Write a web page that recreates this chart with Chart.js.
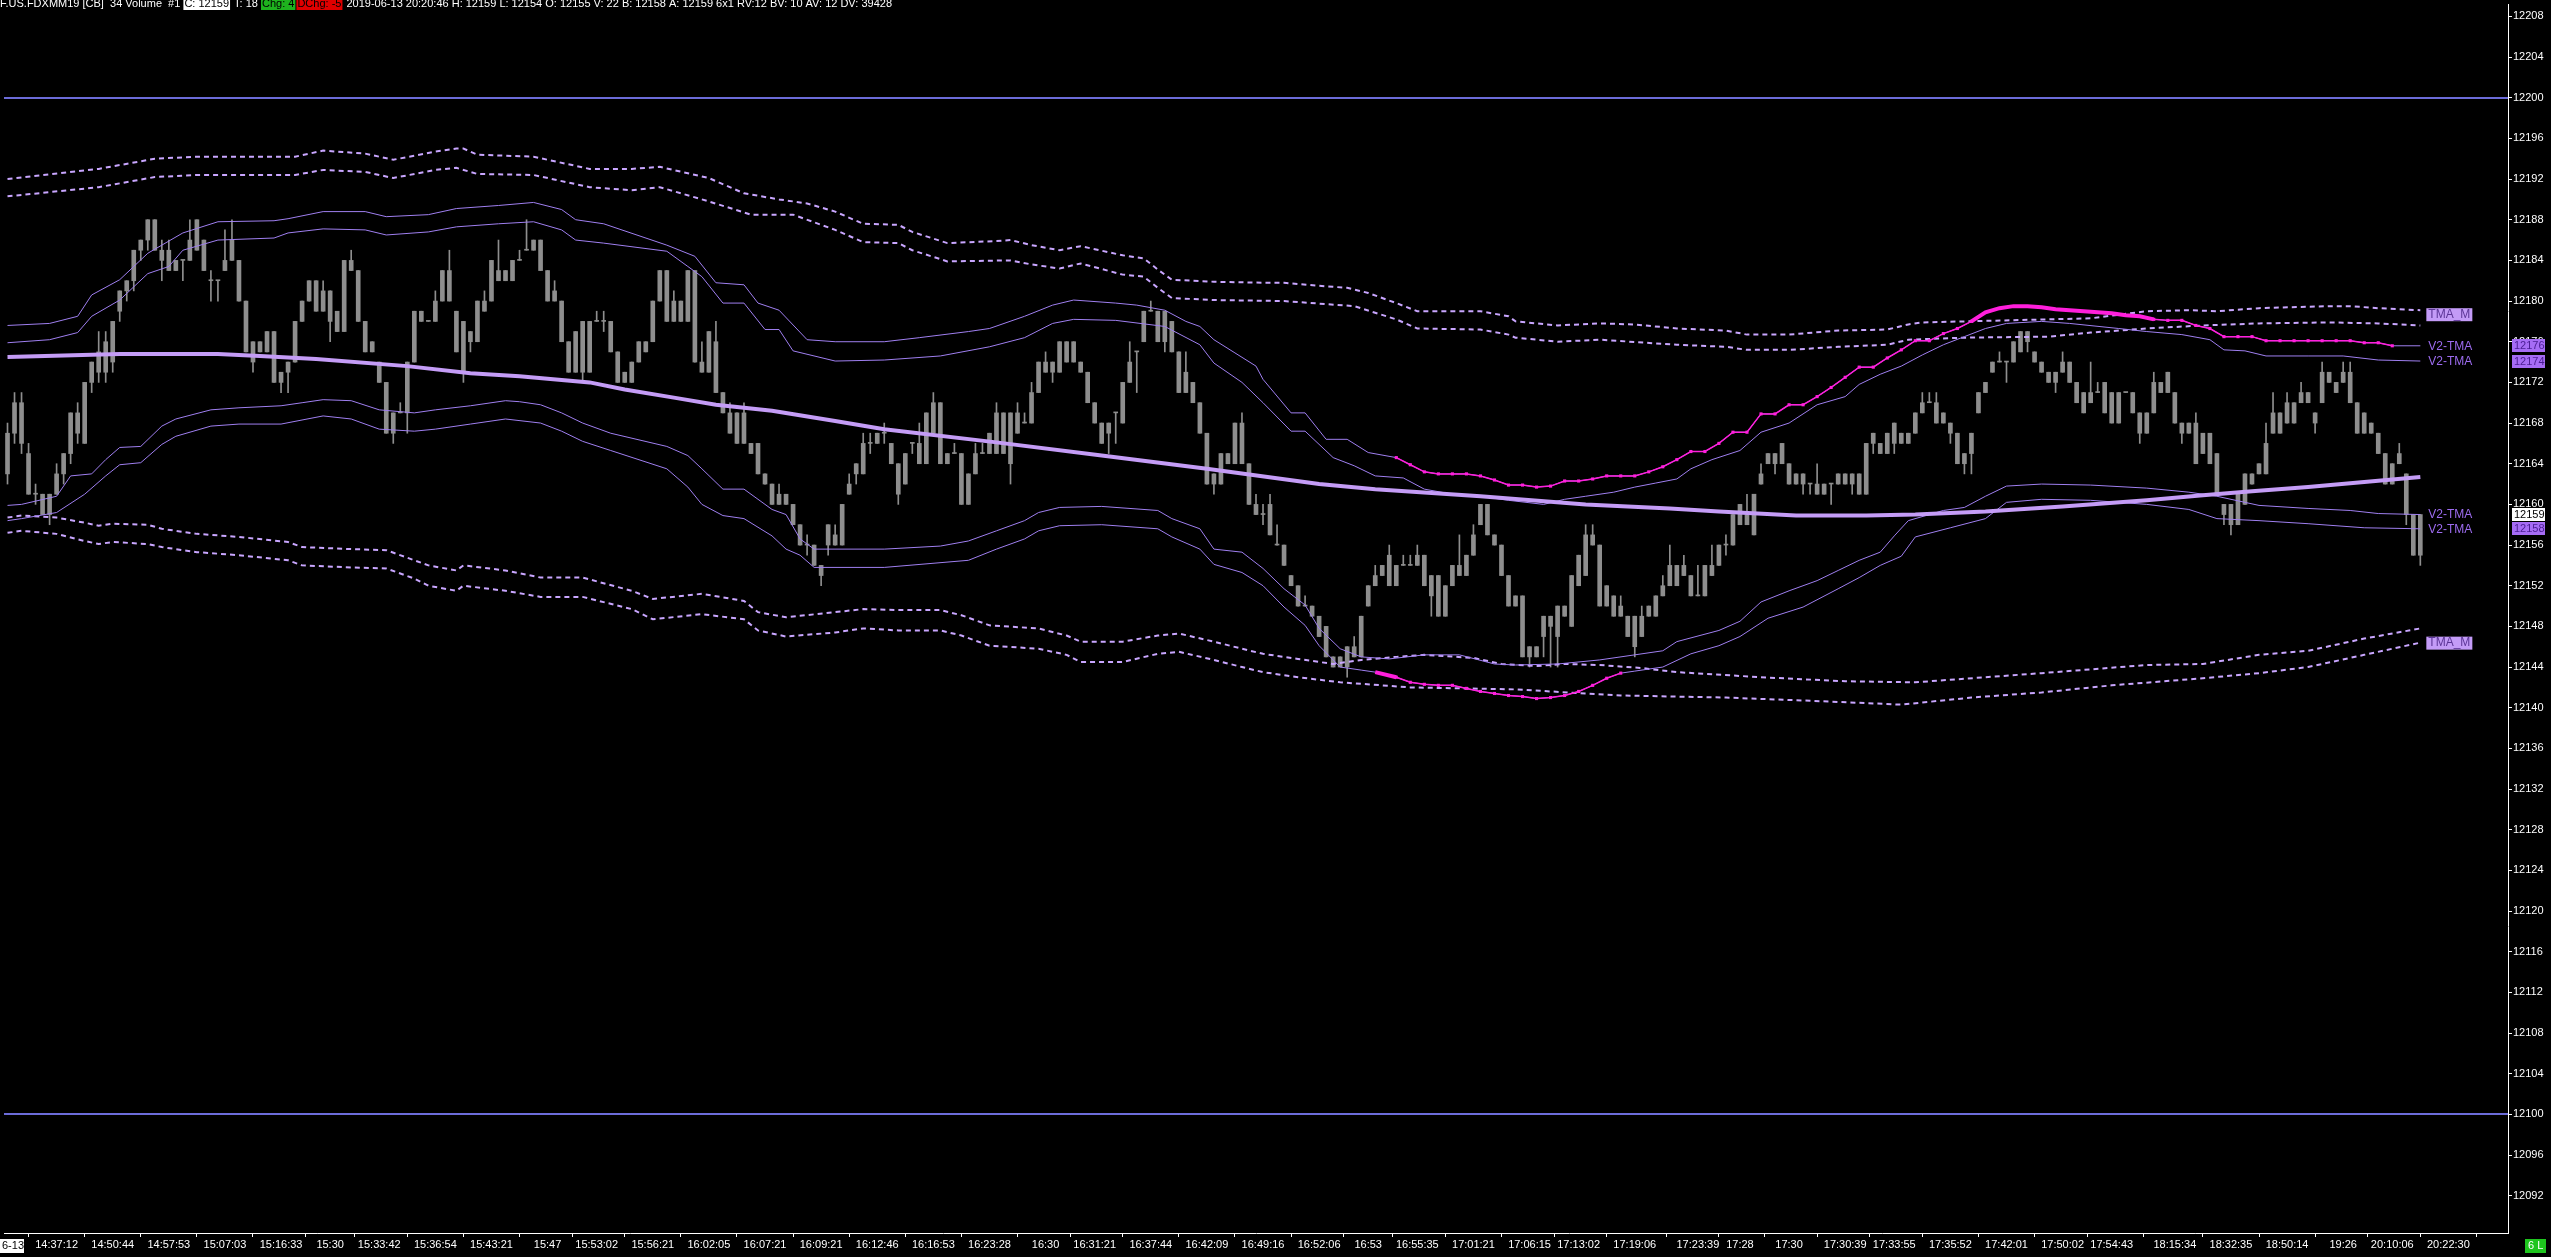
<!DOCTYPE html>
<html>
<head>
<meta charset="utf-8">
<title>F.US.FDXMM19 [CB] 34 Volume</title>
<script src="https://cdn.jsdelivr.net/npm/chart.js@4.4.0/dist/chart.umd.min.js"></script>
<style>
  html, body { margin: 0; padding: 0; background: #000; overflow: hidden; }
  canvas { display: block; }
</style>
</head>
<body>
<canvas id="grafico" width="2551" height="1257"></canvas>
<script>
// 34-volume candles, bar index 0 = first visible bar
const opens = [
  12163,12167,12170,12165,12161,12161,12159,12161,12163,12165,
  12167,12166,12172,12173,12173,12174,12179,12181,12182,12185,
  12186,12188,12185,12185,12183,12184,12184,12185,12186,12182,
  12182,12183,12184,12184,12180,12176,12175,12175,12177,12172,
  12173,12174,12178,12180,12182,12179,12181,12179,12177,12184,
  12183,12178,12175,12174,12172,12167,12169,12169,12174,12179,
  12178,12178,12180,12183,12179,12178,12176,12176,12180,12180,
  12183,12182,12182,12184,12185,12185,12186,12183,12180,12180,
  12176,12173,12178,12173,12178,12178,12178,12175,12172,12172,
  12174,12176,12176,12180,12183,12178,12180,12178,12183,12174,
  12173,12176,12171,12169,12169,12166,12166,12166,12163,12162,
  12160,12161,12160,12158,12156,12156,12154,12156,12157,12156,
  12161,12163,12163,12166,12166,12167,12166,12164,12162,12166,
  12166,12164,12167,12170,12164,12165,12165,12160,12163,12165,
  12165,12165,12169,12164,12169,12168,12168,12171,12174,12173,
  12173,12176,12174,12174,12173,12170,12168,12167,12169,12168,
  12172,12175,12176,12179,12179,12176,12178,12175,12171,12172,
  12170,12167,12162,12162,12165,12164,12168,12164,12160,12159,
  12160,12156,12156,12153,12152,12150,12150,12149,12148,12145,
  12144,12144,12146,12145,12150,12152,12153,12152,12154,12154,
  12154,12154,12155,12153,12153,12149,12152,12154,12153,12155,
  12158,12160,12157,12156,12153,12150,12151,12145,12146,12147,
  12149,12147,12150,12148,12152,12153,12157,12156,12150,12151,
  12149,12149,12149,12147,12149,12149,12151,12152,12154,12153,
  12153,12151,12151,12154,12154,12156,12156,12158,12159,12157,
  12162,12164,12165,12164,12164,12162,12163,12162,12162,12161,
  12162,12162,12163,12162,12163,12161,12166,12166,12165,12166,
  12167,12166,12167,12169,12170,12170,12168,12168,12167,12164,
  12165,12169,12171,12173,12174,12174,12174,12175,12177,12175,
  12174,12173,12172,12173,12174,12172,12171,12170,12171,12172,
  12171,12168,12171,12171,12169,12167,12169,12172,12171,12171,
  12168,12167,12168,12165,12167,12165,12160,12160,12158,12160,
  12163,12163,12163,12167,12169,12168,12170,12170,12171,12169,
  12170,12173,12172,12172,12173,12170,12167,12168,12167,12165,
  12162,12164,12163,12159,12155
];
const highs = [
  12168,12171,12171,12166,12162,12161,12161,12164,12165,12169,
  12170,12172,12174,12177,12177,12178,12181,12182,12185,12186,
  12188,12188,12186,12186,12184,12184,12188,12188,12186,12183,
  12182,12187,12188,12184,12180,12176,12176,12177,12177,12173,
  12174,12178,12180,12182,12182,12182,12181,12179,12184,12185,
  12183,12178,12176,12174,12172,12169,12170,12174,12179,12179,
  12178,12181,12183,12185,12179,12178,12177,12180,12181,12184,
  12186,12183,12184,12185,12188,12186,12186,12183,12182,12180,
  12176,12177,12178,12178,12179,12179,12178,12175,12173,12174,
  12176,12176,12180,12183,12183,12181,12180,12183,12183,12176,
  12177,12178,12171,12170,12169,12170,12166,12166,12163,12162,
  12162,12161,12160,12158,12157,12156,12154,12158,12158,12160,
  12163,12164,12167,12167,12167,12168,12166,12164,12165,12166,
  12168,12169,12171,12170,12165,12166,12165,12163,12166,12166,
  12167,12170,12169,12169,12170,12169,12172,12174,12175,12174,
  12176,12176,12176,12174,12173,12170,12168,12168,12169,12172,
  12176,12175,12179,12180,12179,12179,12178,12175,12175,12172,
  12170,12167,12163,12165,12165,12168,12169,12164,12161,12160,
  12161,12158,12156,12153,12152,12151,12150,12149,12148,12145,
  12145,12146,12147,12149,12152,12154,12154,12156,12154,12155,
  12155,12156,12155,12153,12153,12152,12154,12157,12155,12158,
  12160,12160,12157,12156,12153,12151,12151,12146,12146,12149,
  12149,12150,12150,12153,12155,12158,12158,12156,12152,12151,
  12151,12149,12149,12150,12150,12151,12153,12156,12154,12155,
  12153,12154,12154,12156,12156,12157,12159,12160,12161,12161,
  12164,12165,12165,12166,12164,12163,12163,12162,12164,12162,
  12162,12163,12163,12163,12163,12166,12167,12166,12167,12168,
  12167,12167,12169,12171,12171,12171,12169,12168,12167,12165,
  12167,12171,12172,12174,12175,12174,12176,12177,12177,12175,
  12174,12173,12173,12175,12174,12172,12171,12174,12172,12172,
  12171,12171,12171,12171,12169,12169,12173,12172,12173,12171,
  12168,12168,12169,12167,12167,12165,12160,12160,12161,12163,
  12163,12164,12168,12171,12169,12171,12170,12172,12171,12169,
  12174,12173,12172,12174,12174,12170,12169,12168,12167,12165,
  12164,12166,12163,12159,12159
];
const lows = [
  12162,12166,12165,12161,12160,12159,12158,12161,12162,12164,
  12166,12166,12171,12172,12172,12173,12178,12180,12181,12184,
  12185,12185,12182,12183,12183,12182,12184,12185,12183,12180,
  12180,12183,12184,12180,12175,12173,12175,12175,12172,12171,
  12171,12174,12178,12180,12179,12179,12176,12177,12177,12183,
  12178,12175,12175,12172,12167,12166,12169,12167,12174,12178,
  12178,12178,12180,12180,12175,12172,12175,12176,12179,12180,
  12182,12182,12182,12184,12185,12185,12183,12180,12180,12176,
  12173,12173,12172,12173,12178,12177,12175,12172,12172,12172,
  12174,12175,12176,12180,12178,12178,12178,12178,12174,12173,
  12173,12171,12169,12167,12166,12166,12165,12163,12162,12160,
  12160,12160,12158,12156,12155,12154,12152,12155,12156,12156,
  12161,12162,12163,12165,12166,12166,12164,12160,12162,12165,
  12164,12164,12167,12164,12164,12165,12160,12160,12163,12165,
  12165,12165,12165,12162,12167,12168,12168,12171,12173,12172,
  12173,12174,12174,12173,12170,12168,12166,12165,12166,12168,
  12172,12171,12176,12179,12176,12175,12175,12171,12171,12170,
  12167,12162,12161,12162,12164,12164,12164,12160,12159,12158,
  12157,12156,12154,12152,12150,12150,12149,12147,12145,12144,
  12144,12143,12145,12145,12150,12152,12153,12152,12152,12154,
  12154,12154,12152,12149,12149,12149,12152,12153,12153,12155,
  12158,12157,12156,12153,12150,12150,12145,12144,12145,12145,
  12144,12144,12149,12148,12152,12153,12156,12150,12150,12149,
  12149,12147,12145,12147,12149,12149,12151,12152,12152,12153,
  12151,12151,12151,12153,12154,12155,12156,12158,12158,12157,
  12162,12164,12163,12164,12162,12162,12161,12161,12161,12161,
  12160,12162,12162,12161,12161,12161,12165,12165,12165,12165,
  12166,12166,12167,12169,12170,12168,12168,12166,12164,12163,
  12163,12169,12171,12173,12174,12172,12174,12175,12175,12174,
  12173,12172,12171,12173,12172,12170,12169,12170,12171,12169,
  12168,12168,12171,12169,12166,12167,12169,12171,12171,12168,
  12166,12167,12164,12165,12164,12161,12158,12157,12158,12160,
  12162,12163,12163,12167,12167,12168,12168,12170,12170,12167,
  12170,12172,12171,12172,12170,12167,12167,12167,12165,12162,
  12162,12164,12158,12155,12154
];
const closes = [
  12167,12170,12166,12161,12161,12159,12161,12163,12165,12169,
  12169,12172,12174,12175,12176,12178,12181,12182,12185,12186,
  12188,12185,12184,12183,12184,12184,12186,12188,12183,12182,
  12182,12184,12186,12180,12175,12174,12176,12177,12172,12173,
  12174,12178,12180,12182,12179,12181,12178,12177,12184,12183,
  12178,12175,12176,12172,12167,12169,12169,12174,12179,12178,
  12178,12180,12183,12180,12175,12173,12177,12180,12179,12184,
  12182,12183,12184,12184,12185,12186,12183,12180,12181,12176,
  12173,12177,12173,12178,12178,12178,12175,12172,12173,12174,
  12176,12175,12180,12183,12178,12180,12178,12183,12174,12173,
  12177,12171,12169,12167,12166,12169,12165,12163,12162,12160,
  12161,12160,12158,12156,12156,12154,12153,12158,12156,12160,
  12162,12164,12166,12166,12167,12167,12164,12161,12165,12166,
  12164,12169,12170,12164,12165,12165,12160,12163,12165,12165,
  12167,12169,12165,12169,12167,12168,12171,12174,12173,12174,
  12176,12174,12176,12173,12170,12168,12166,12168,12169,12172,
  12174,12175,12179,12179,12176,12179,12175,12171,12173,12170,
  12167,12162,12163,12165,12164,12168,12164,12160,12159,12159,
  12157,12156,12154,12152,12150,12150,12149,12147,12145,12144,
  12145,12146,12145,12149,12152,12153,12154,12155,12152,12154,
  12154,12155,12152,12151,12149,12152,12154,12153,12155,12157,
  12160,12157,12156,12153,12150,12151,12145,12146,12145,12149,
  12148,12150,12149,12153,12155,12157,12156,12150,12152,12149,
  12150,12147,12146,12149,12150,12151,12152,12154,12152,12154,
  12151,12151,12154,12153,12156,12156,12159,12160,12158,12161,
  12163,12165,12164,12166,12162,12163,12162,12162,12161,12162,
  12162,12163,12162,12163,12161,12166,12167,12165,12167,12168,
  12166,12167,12169,12170,12170,12168,12169,12167,12164,12165,
  12167,12171,12172,12174,12174,12174,12176,12177,12176,12174,
  12173,12172,12173,12174,12172,12170,12169,12171,12171,12169,
  12168,12171,12171,12169,12167,12169,12172,12171,12173,12168,
  12167,12168,12164,12167,12164,12161,12159,12158,12161,12163,
  12162,12164,12166,12169,12167,12170,12168,12171,12170,12168,
  12173,12172,12171,12173,12170,12167,12169,12167,12165,12162,
  12164,12165,12159,12155,12159
];

// TMA centre line, [bar, price]
const tmaMid = [
  [0,12174.5],[16,12174.8],[30,12174.8],[36,12174.6],[44,12174.3],[57,12173.6],[66,12172.9],
  [73,12172.6],[83,12172.0],[88,12171.3],[95,12170.5],[101,12169.8],[109,12169.2],[118,12168.2],
  [125,12167.4],[141,12166.1],[156,12164.8],[171,12163.5],[187,12162.0],[195,12161.5],[210,12160.8],
  [225,12160.0],[237,12159.6],[244,12159.3],[255,12158.9],[265,12158.9],[272,12159.0],[282,12159.3],
  [293,12159.8],[305,12160.4],[313,12160.9],[320,12161.3],[328,12161.7],[336,12162.2],[344,12162.7]
];

// V2-TMA bands (solid), [bar, price]
const upper1 = [
  [0,12177.6],[6,12177.8],[10,12178.5],[12,12180.6],[16,12182.1],[18,12183.4],[20,12184.7],
  [23,12185.9],[25,12186.7],[30,12187.8],[38,12187.9],[40,12188.1],[45,12188.8],[51,12188.8],
  [54,12188.3],[60,12188.5],[64,12189.1],[70,12189.4],[75,12189.7],[79,12189.0],[81,12188.0],
  [85,12187.6],[94,12185.5],[98,12184.4],[101,12181.8],[105,12181.6],[107,12179.8],[110,12179.1],
  [114,12176.2],[118,12176.0],[125,12176.0],[130,12176.4],[137,12177.0],[140,12177.3],[145,12178.5],
  [149,12179.6],[152,12180.1],[158,12179.8],[161,12179.6],[165,12179.1],[168,12178.0],[170,12177.5],
  [172,12176.2],[175,12174.9],[178,12173.6],[179,12172.3],[183,12169.0],[185,12169.0],[188,12166.4],
  [191,12166.4],[194,12165.1],
  [198,12164.6],[200,12163.9],[202,12163.2],[204,12163.0],[206,12163.0],[208,12163.0],[210,12162.8],
  [212,12162.4],[214,12161.9],[216,12161.9],[218,12161.7],[220,12161.8],[222,12162.3],[224,12162.3],
  [226,12162.5],[228,12162.8],[230,12162.8],[232,12162.8],[234,12163.2],[236,12163.7],[238,12164.4],
  [240,12165.2],[242,12165.2],[244,12166.0],[246,12167.1],[248,12167.1],[250,12168.9],[252,12168.9],
  [254,12169.8],[256,12169.8],[258,12170.6],[260,12171.5],[262,12172.5],[264,12173.5],[266,12173.5],
  [268,12174.4],[270,12175.2],[272,12176.1],[274,12176.1],[276,12176.8],[278,12177.3],[280,12178.0],
  [282,12178.9],[284,12179.3],[286,12179.5],[288,12179.5],[290,12179.4],[292,12179.2],[294,12179.1],
  [296,12179.0],[298,12178.9],[300,12178.8],[302,12178.6],[304,12178.5],[306,12178.2],[308,12178.1],
  [310,12178.1],[312,12177.6],[314,12177.3],[316,12176.5],[318,12176.5],[320,12176.5],[322,12176.1],
  [324,12176.1],[326,12176.1],[328,12176.1],[330,12176.1],[332,12176.1],[334,12176.1],[336,12175.9],
  [338,12175.9],[340,12175.6],[344,12175.6]
];
const upper2 = [
  [0,12175.9],[6,12176.2],[10,12176.9],[12,12178.5],[16,12180.1],[18,12181.4],[20,12182.7],
  [23,12183.4],[25,12185.0],[30,12186.0],[38,12186.2],[40,12186.7],[45,12187.1],[51,12187.0],
  [54,12186.5],[60,12186.8],[64,12187.3],[70,12187.6],[75,12187.8],[79,12187.0],[81,12186.0],
  [85,12185.7],[94,12184.9],[97,12183.4],[99,12182.4],[102,12179.8],[105,12179.8],[108,12177.2],
  [110,12177.2],[112,12175.1],[118,12174.1],[125,12174.2],[133,12174.6],[140,12175.5],[145,12176.4],
  [149,12177.8],[152,12178.2],[158,12178.1],[165,12177.5],[170,12175.7],[172,12173.9],[176,12172.0],
  [179,12170.0],[183,12167.2],[185,12167.2],[189,12164.6],[192,12163.8],[195,12162.8],[199,12162.6],
  [202,12161.5],[206,12161.0],[210,12160.8],[214,12160.4],[219,12160.0],[222,12160.5],[225,12160.8],
  [229,12161.2],[232,12161.7],[235,12162.1],[238,12162.5],[240,12163.5],[243,12164.4],[247,12165.3],
  [250,12167.1],[254,12168.0],[258,12169.8],[262,12170.6],[264,12171.8],[267,12172.8],[270,12173.6],
  [273,12174.7],[276,12175.7],[279,12176.5],[282,12177.3],[285,12177.8],[290,12178.0],[294,12177.8],
  [301,12177.3],[305,12177.0],[310,12176.7],[314,12176.2],[316,12175.2],[319,12175.1],[322,12174.6],
  [328,12174.6],[333,12174.6],[338,12174.2],[344,12174.1]
];
const lower1 = [
  [0,12159.9],[2,12160.0],[7,12160.8],[9,12162.8],[12,12163.0],[14,12164.4],[16,12165.6],
  [19,12165.7],[22,12167.7],[24,12168.4],[29,12169.3],[33,12169.5],[39,12169.7],[42,12170.0],
  [45,12170.3],[49,12170.2],[53,12169.3],[58,12169.0],[61,12169.3],[66,12169.7],[71,12170.2],
  [73,12170.1],[76,12169.8],[79,12169.0],[82,12168.0],[86,12167.0],[94,12165.7],[97,12164.8],
  [99,12163.5],[102,12161.5],[105,12161.5],[109,12159.5],[111,12159.0],[113,12156.6],[115,12155.6],
  [125,12155.6],[133,12155.9],[137,12156.4],[141,12157.4],[145,12158.4],[147,12159.2],[150,12159.7],
  [156,12159.8],[164,12159.4],[166,12158.6],[170,12157.6],[172,12155.6],[176,12155.3],[179,12153.7],
  [182,12151.7],[185,12150.1],[187,12147.8],[190,12145.8],[193,12145.0],[197,12144.8],[202,12145.2],
  [207,12145.2],[212,12144.3],[215,12144.2],[221,12144.3],[227,12144.7],[232,12145.2],[236,12145.6],
  [238,12146.5],[244,12147.6],[247,12148.5],[250,12150.4],[254,12151.5],[258,12152.5],[261,12153.5],
  [264,12154.5],[267,12155.3],[269,12156.9],[271,12158.4],[276,12159.4],[279,12159.7],[282,12160.8],
  [285,12161.8],[290,12162.0],[297,12161.9],[305,12161.6],[311,12161.2],[315,12160.8],[321,12159.9],
  [328,12159.6],[334,12159.4],[338,12159.1],[344,12159.0]
];
const lower2 = [
  [0,12158.4],[2,12158.6],[7,12159.2],[11,12161.0],[14,12162.8],[16,12163.9],[19,12164.1],
  [22,12165.9],[24,12166.7],[29,12167.7],[33,12167.9],[39,12167.9],[45,12168.7],[49,12168.4],
  [53,12167.4],[58,12167.2],[61,12167.4],[66,12167.9],[71,12168.4],[76,12168.0],[79,12167.2],
  [82,12166.2],[86,12165.3],[94,12163.5],[97,12161.7],[99,12160.0],[102,12158.9],[105,12158.6],
  [109,12156.9],[111,12155.6],[113,12155.0],[115,12153.8],[125,12153.8],[137,12154.5],[141,12155.6],
  [145,12156.6],[147,12157.4],[150,12157.9],[156,12158.0],[164,12157.6],[166,12156.8],[170,12155.6],
  [172,12154.1],[176,12153.3],[179,12152.0],[182,12149.9],[185,12148.1],[187,12146.1],[190,12144.0],
  [193,12143.7],[195,12143.5],[198,12143.0],[200,12142.5],[202,12142.3],[204,12142.2],[206,12142.2],
  [208,12141.9],[210,12141.6],[212,12141.4],[214,12141.2],[216,12141.1],[218,12140.9],[220,12141.0],
  [222,12141.2],[224,12141.6],[226,12142.2],[228,12142.9],[230,12143.4],[232,12143.6],[236,12144.0],
  [240,12145.3],[244,12146.1],[247,12147.0],[251,12148.8],[256,12149.9],[261,12151.7],[264,12152.8],
  [267,12154.0],[270,12154.9],[272,12156.8],[277,12157.7],[282,12158.6],[285,12160.2],[290,12160.5],
  [297,12160.4],[305,12160.0],[311,12159.5],[315,12158.6],[321,12158.4],[328,12158.1],[336,12157.7],
  [344,12157.6]
];

// TMA_M envelopes (dashed), [bar, price]
const outerUp1 = [
  [0,12192.0],[13,12193.0],[21,12194.0],[27,12194.2],[41,12194.2],[45,12194.8],[51,12194.5],
  [55,12193.9],[61,12194.7],[64,12195.0],[65,12195.0],[67,12194.4],[75,12194.2],[83,12193.0],
  [89,12193.0],[93,12193.2],[100,12192.1],[105,12190.6],[110,12190.0],[114,12189.6],[118,12188.8],
  [122,12187.6],[127,12187.5],[129,12186.8],[134,12185.7],[141,12185.9],[143,12186.0],[146,12185.5],
  [150,12185.0],[153,12185.4],[159,12184.5],[162,12184.2],[164,12183.1],[166,12182.1],[172,12181.9],
  [179,12181.8],[182,12181.8],[187,12181.5],[191,12181.3],[194,12180.8],[198,12179.8],[201,12179.0],
  [210,12179.0],[214,12178.5],[215,12178.0],[221,12177.6],[227,12177.8],[232,12177.7],[238,12177.3],
  [245,12177.1],[248,12176.7],[254,12176.7],[261,12177.1],[268,12177.2],[271,12177.7],[273,12177.9],
  [279,12178.0],[291,12178.2],[297,12178.3],[305,12179.0],[311,12179.1],[315,12179.0],[321,12179.3],
  [331,12179.5],[334,12179.5],[338,12179.3],[344,12179.1]
];
const outerUp2 = [
  [0,12190.3],[13,12191.2],[21,12192.2],[27,12192.4],[41,12192.4],[45,12192.9],[51,12192.7],
  [55,12192.1],[61,12192.9],[64,12193.1],[67,12192.5],[75,12192.4],[83,12191.2],[89,12190.9],
  [93,12191.2],[100,12189.8],[106,12188.5],[112,12188.5],[118,12187.0],[122,12185.8],[127,12185.7],
  [129,12185.0],[134,12183.9],[143,12184.0],[146,12183.6],[150,12183.2],[153,12183.7],[159,12182.6],
  [162,12182.4],[164,12181.3],[166,12180.3],[172,12180.1],[182,12180.0],[192,12179.5],[198,12178.2],
  [201,12177.3],[210,12177.2],[214,12176.7],[215,12176.4],[221,12176.0],[227,12176.2],[238,12175.7],
  [245,12175.5],[248,12175.2],[254,12175.2],[261,12175.5],[268,12175.7],[271,12176.2],[279,12176.4],
  [291,12176.5],[297,12176.9],[305,12177.3],[313,12177.6],[321,12177.8],[331,12177.9],[338,12177.8],
  [344,12177.6]
];
const outerLo1 = [
  [0,12158.7],[2,12158.9],[7,12158.7],[11,12158.2],[13,12157.9],[15,12158.1],[20,12158.0],
  [22,12157.6],[27,12157.1],[33,12156.8],[40,12156.3],[42,12155.8],[49,12155.6],[54,12155.5],
  [58,12154.5],[60,12154.0],[64,12153.5],[65,12154.0],[71,12153.5],[76,12152.8],[82,12152.8],
  [89,12151.5],[92,12150.7],[99,12151.2],[105,12150.5],[107,12149.4],[111,12148.9],[118,12149.4],
  [122,12149.7],[127,12149.6],[133,12149.6],[136,12149.1],[140,12148.1],[147,12147.8],[151,12147.1],
  [153,12146.5],[159,12146.5],[164,12147.1],[167,12147.3],[172,12146.5],[176,12145.8],[179,12145.3],
  [184,12144.8],[189,12144.3],[193,12144.7],[198,12145.0],[202,12145.2],[209,12144.9],[213,12144.3],
  [218,12144.1],[222,12144.3],[227,12144.2],[233,12143.9],[238,12143.5],[250,12143.0],[262,12142.6],
  [272,12142.5],[282,12143.0],[290,12143.4],[305,12144.2],[313,12144.3],[321,12145.2],[328,12145.6],
  [336,12146.8],[344,12147.8]
];
const outerLo2 = [
  [0,12157.2],[2,12157.4],[7,12157.1],[11,12156.4],[13,12156.1],[15,12156.3],[20,12156.1],
  [22,12155.8],[27,12155.3],[33,12155.0],[40,12154.5],[42,12154.0],[49,12153.8],[54,12153.7],
  [58,12152.7],[60,12152.0],[64,12151.5],[65,12152.0],[71,12151.5],[76,12150.9],[82,12150.9],
  [89,12149.7],[92,12148.7],[99,12149.2],[105,12148.7],[107,12147.6],[111,12147.0],[118,12147.4],
  [122,12147.8],[127,12147.6],[133,12147.6],[136,12147.1],[140,12146.1],[147,12145.8],[151,12145.2],
  [153,12144.5],[159,12144.5],[164,12145.3],[167,12145.5],[172,12144.7],[176,12144.0],[179,12143.5],
  [184,12143.0],[190,12142.5],[200,12142.0],[215,12141.8],[230,12141.2],[245,12141.0],[260,12140.6],
  [270,12140.3],[280,12141.0],[290,12141.5],[300,12142.2],[313,12142.9],[321,12143.4],[328,12144.0],
  [336,12145.2],[344,12146.4]
];

// horizontal levels and axis ticks
const levels = [12200, 12100];
const priceTicks = [];
for (let p = 12092; p <= 12208; p += 4) priceTicks.push(p);
const timeLabels = [
  '14:37:12','14:50:44','14:57:53','15:07:03','15:16:33','15:30','15:33:42','15:36:54','15:43:21',
  '15:47','15:53:02','15:56:21','16:02:05','16:07:21','16:09:21','16:12:46','16:16:53','16:23:28',
  '16:30','16:31:21','16:37:44','16:42:09','16:49:16','16:52:06','16:53','16:55:35','17:01:21',
  '17:06:15','17:13:02','17:19:06','17:23:39','17:28','17:30','17:30:39','17:33:55','17:35:52',
  '17:42:01','17:50:02','17:54:43','18:15:34','18:32:35','18:50:14','19:26','20:10:06','20:22:30'
];
const timeLabelBars = [
  7,15,23,31,39,46,53,61,69,77,84,92,100,108,116,124,132,140,148,155,163,171,179,187,194,201,209,
  217,224,232,241,247,254,262,269,277,285,293,300,309,317,325,333,340,348
];

const FONT = '"Liberation Sans Narrow", "Liberation Sans", Arial, sans-serif';
Chart.defaults.font.family = FONT;
Chart.defaults.color = '#ffffff';

const pts = arr => arr.map(([x, y]) => ({ x: x, y: y }));
const inRange = (arr, a, b) => arr.filter(([x]) => x >= a && x <= b);
const last = arr => arr[arr.length - 1][1];

function lineSet(arr, color, width, dash) {
  return {
    type: 'line',
    data: pts(arr),
    borderColor: color,
    borderWidth: width,
    borderDash: dash || [],
    pointRadius: 0,
    tension: 0,
    fill: false
  };
}

function dotSet(arr, color, skipFrom, skipTo) {
  return {
    type: 'line',
    data: pts(arr),
    borderColor: color,
    borderWidth: 1.5,
    tension: 0,
    fill: false,
    pointStyle: 'rect',
    pointBackgroundColor: color,
    pointBorderWidth: 0,
    pointRadius: c => (c.raw && c.raw.x > skipFrom && c.raw.x < skipTo) ? 0 : 2.2
  };
}

// no extra room around the plot for half tick labels
function noPad(s) {
  s.paddingTop = 0;
  s.paddingBottom = 0;
  s.paddingLeft = 0;
  s.paddingRight = 0;
}

// texts drawn on top of the chart
const labelPlugin = {
  id: 'labels',
  beforeDatasetsDraw(chart) {
    const { ctx, chartArea, scales } = chart;
    ctx.save();
    ctx.strokeStyle = '#6b6bd8';
    ctx.lineWidth = 2;
    levels.forEach(v => {
      const py = Math.round(scales.y.getPixelForValue(v));
      ctx.beginPath();
      ctx.moveTo(chartArea.left, py);
      ctx.lineTo(chartArea.right, py);
      ctx.stroke();
    });
    ctx.restore();
  },
  afterDraw(chart) {
    const { ctx, scales } = chart;
    const y = scales.y;
    const lx = scales.x.getPixelForValue(closes.length) + 1;
    ctx.save();
    ctx.textBaseline = 'middle';

    // header line
    ctx.font = '11px ' + FONT;
    const header = [
      ['F.US.FDXMM19 [CB]  34 Volume  #1 ', null, '#ffffff'],
      ['C: 12159', '#ffffff', '#000000'],
      [' T: 18 ', null, '#ffffff'],
      ['Chg: 4', '#1eb31e', '#000000'],
      ['DChg: -5', '#e00000', '#000000'],
      [' 2019-06-13 20:20:46 H: 12159 L: 12154 O: 12155 V: 22 B: 12158 A: 12159 6x1 RV:12 BV: 10 AV: 12 DV: 39428', null, '#ffffff']
    ];
    let hx = 0;
    header.forEach(([t, bg, fg]) => {
      const w = ctx.measureText(t).width;
      if (bg) {
        ctx.fillStyle = bg;
        ctx.fillRect(hx, 0, w + 2, 10);
        hx += 1;
      }
      ctx.fillStyle = fg;
      ctx.fillText(t, hx, 4);
      hx += w + (bg ? 2 : 0);
    });

    // TMA_M tags
    ctx.font = '12px ' + FONT;
    [[last(outerUp1), 4], [last(outerLo2), 0]].forEach(([v, dy]) => {
      const py = y.getPixelForValue(v) + dy;
      const w = ctx.measureText('TMA_M').width + 4;
      ctx.fillStyle = '#c39bf7';
      ctx.fillRect(lx - 2, py - 6, w, 13);
      ctx.fillStyle = '#5b3596';
      ctx.fillText('TMA_M', lx, py + 0.5);
    });
    // V2-TMA tags
    ctx.fillStyle = '#9d6cf0';
    [upper1, upper2, lower1, lower2].forEach(arr => {
      ctx.fillText('V2-TMA', lx, y.getPixelForValue(last(arr)) + 0.5);
    });

    // price boxes on the axis
    ctx.font = '11px ' + FONT;
    const boxes = [
      [last(upper1), '#a66cf5', '#4a1d92'],
      [last(upper2), '#a66cf5', '#4a1d92'],
      [closes[closes.length - 1], '#ffffff', '#000000'],
      [last(lower2), '#a66cf5', '#4a1d92']
    ];
    boxes.forEach(([v, bg, fg]) => {
      const py = y.getPixelForValue(v);
      ctx.fillStyle = bg;
      ctx.fillRect(2512, Math.round(py - 6.5), 33, 13);
      ctx.fillStyle = fg;
      ctx.fillText(String(Math.round(v)), 2514, py + 0.5);
    });

    // date tag and bottom right status
    ctx.font = '11px ' + FONT;
    ctx.fillStyle = '#ffffff';
    ctx.fillRect(0, 1239, 24, 14);
    ctx.fillStyle = '#000000';
    ctx.fillText('6-13', 2, 1246);
    ctx.fillStyle = '#1ec51e';
    ctx.fillRect(2525, 1239, 21, 14);
    ctx.fillStyle = '#ffffff';
    ctx.fillText('6 L', 2528, 1246);
    ctx.restore();
  }
};

const ctx = document.getElementById('grafico').getContext('2d');

new Chart(ctx, {
  type: 'bar',
  data: {
    datasets: [
      lineSet(inRange(upper1, 280, 306), '#ff1fdc', 4),
      lineSet(inRange(lower2, 195, 198), '#ff1fdc', 4),
      dotSet(inRange(upper1, 198, 340), '#ff1fdc', 280, 306),
      dotSet(inRange(lower2, 198, 230), '#ff1fdc', 0, 0),
      lineSet(tmaMid, '#c49cf6', 4),
      lineSet(upper1, '#9f7ff0', 1),
      lineSet(upper2, '#9f7ff0', 1),
      lineSet(lower1, '#9f7ff0', 1),
      lineSet(lower2, '#9f7ff0', 1),
      lineSet(outerUp1, '#c9a6ff', 2, [5, 4]),
      lineSet(outerUp2, '#c9a6ff', 2, [5, 4]),
      lineSet(outerLo1, '#c9a6ff', 2, [5, 4]),
      lineSet(outerLo2, '#c9a6ff', 2, [5, 4]),
      {
        type: 'bar',
        data: closes.map((c, i) => ({ x: i, y: [opens[i], c] })),
        backgroundColor: '#8e8e8e',
        barThickness: 4,
        minBarLength: 1,
        grouped: false,
        borderWidth: 0
      },
      {
        type: 'bar',
        data: lows.map((l, i) => ({ x: i, y: [l, highs[i]] })),
        backgroundColor: '#8e8e8e',
        barThickness: 1,
        grouped: false,
        borderWidth: 0
      }
    ]
  },
  options: {
    responsive: false,
    animation: false,
    events: [],
    layout: { padding: 0 },
    plugins: { legend: { display: false }, tooltip: { enabled: false } },
    scales: {
      x: {
        type: 'linear',
        min: -0.5,
        max: 356.5,
        offset: false,
        grid: { display: true, drawOnChartArea: false, color: '#ffffff', tickLength: 4 },
        border: { display: true, color: '#ffffff' },
        ticks: {
          autoSkip: false, maxRotation: 0, minRotation: 0, padding: 1,
          color: '#ffffff', font: { size: 11 },
          callback: (v, i) => timeLabels[i]
        },
        afterBuildTicks: s => { s.ticks = timeLabelBars.map(v => ({ value: v })); },
        afterFit: s => { s.height = 24; noPad(s); }
      },
      y: {
        position: 'right',
        min: 12088.33,
        max: 12209.22,
        grid: { display: true, drawOnChartArea: false, color: '#ffffff', tickLength: 4 },
        border: { display: true, color: '#ffffff' },
        ticks: {
          autoSkip: false, padding: 1, color: '#ffffff', font: { size: 11 },
          callback: v => String(v)
        },
        afterBuildTicks: s => { s.ticks = priceTicks.map(v => ({ value: v })); },
        afterFit: s => { s.width = 43; noPad(s); }
      }
    }
  },
  plugins: [labelPlugin]
});
</script>
</body>
</html>
